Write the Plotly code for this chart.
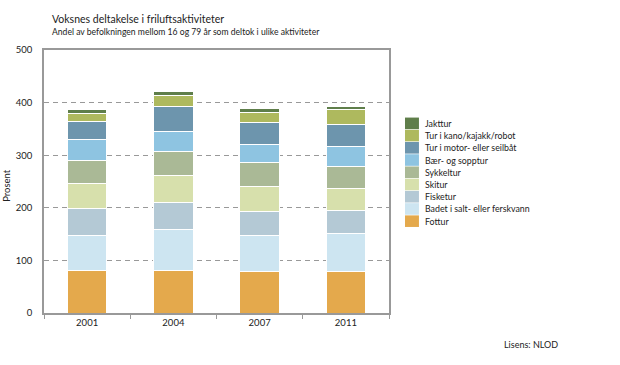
import plotly.graph_objects as go

years = ["2001", "2004", "2007", "2011"]
series_names = ["Fottur", "Badet i salt- eller ferskvann", "Fisketur", "Skitur",
                "Sykkeltur", "Bær- og sopptur", "Tur i motor- eller seilbåt",
                "Tur i kano/kajakk/robot", "Jakttur"]
fottur = [80, 80, 79, 79]
badet = [68, 79, 68, 73]
fisketur = [50, 52, 46, 43]
skitur = [49, 50, 48, 42]
sykkeltur = [42, 46, 45, 42]
baer = [40, 39, 35, 37]
motor = [36, 47, 41, 43]
kano = [15, 20, 20, 28]
jakt = [7, 8, 7, 5]
values = [fottur, badet, fisketur, skitur, sykkeltur, baer, motor, kano, jakt]
colors = ["#e4a94c", "#cde5f1", "#b4c9d5", "#d7e0ac", "#aab996",
          "#8ec4e1", "#6d95ad", "#aeb95e", "#5f7e4a"]
yticks = [0, 100, 200, 300, 400, 500]

W, H = 620, 365
L, R, T, B = 43.5, 231, 49.5, 52
pw, ph = W - L - R, H - T - B

def px(x):
    return (x - L) / pw

def py(y):
    return (H - B - y) / ph

fig = go.Figure()
for name, vals, col in zip(series_names, values, colors):
    fig.add_trace(go.Bar(x=years, y=vals, name=name, marker_color=col,
                         marker_line_color="white", marker_line_width=1,
                         showlegend=False))

FONT = "Lato, Open Sans, sans-serif"
fig.update_layout(
    width=W, height=H, barmode="stack", bargap=0.54,
    margin=dict(l=L, r=R, t=T, b=B, autoexpand=False),
    plot_bgcolor="white", paper_bgcolor="white",
    font=dict(family=FONT, size=10, color="#222"),
    xaxis=dict(showline=True, linecolor="#999", linewidth=1.5, mirror=True,
               tickson="boundaries", ticks="outside", ticklen=4, tickcolor="#999",
               tickfont=dict(size=9.5, color="#222"), showgrid=False),
    yaxis=dict(range=[0, 500], tickvals=yticks, showline=True, linecolor="#999",
               linewidth=1.5, mirror=True, showgrid=True, gridcolor="#999",
               gridwidth=1.2, griddash="5px,4px", zeroline=False, ticks="",
               tickfont=dict(size=9.5, color="#222"), ticklabelstandoff=8),
)

anns = []
anns.append(dict(text="Voksnes deltakelse i friluftsaktiviteter", x=px(50), y=py(18),
                 xref="paper", yref="paper", xanchor="left", yanchor="middle",
                 showarrow=False, font=dict(size=10.5, color="#222")))
anns.append(dict(text="Andel av befolkningen mellom 16 og 79 år som deltok i ulike aktiviteter",
                 x=px(50), y=py(31), xref="paper", yref="paper", xanchor="left",
                 yanchor="middle", showarrow=False, font=dict(size=8.6, color="#222")))
anns.append(dict(text="Prosent", x=px(6), y=py(185), xref="paper", yref="paper",
                 xanchor="center", yanchor="middle",
                 textangle=-90, showarrow=False, font=dict(size=9.5, color="#222")))
anns.append(dict(text="Lisens: NLOD", x=px(560), y=py(345), xref="paper", yref="paper",
                 xanchor="right", yanchor="middle", showarrow=False,
                 font=dict(size=9, color="#222")))

shapes = []
legend_order = list(reversed(range(len(series_names))))
for i, k in enumerate(legend_order):
    cy = 123 + i * 12.25
    shapes.append(dict(type="rect", xref="paper", yref="paper",
                       x0=px(405), x1=px(419), y0=py(cy - 5.8), y1=py(cy + 5.8),
                       fillcolor=colors[k], line=dict(width=0)))
    anns.append(dict(text=series_names[k], x=px(423), y=py(cy), xref="paper", yref="paper",
                     xanchor="left", yanchor="middle", showarrow=False,
                     font=dict(size=8.8, color="#222")))

fig.update_layout(annotations=anns, shapes=shapes)
fig.write_html("out.html", config={"displayModeBar": False},
               post_script="document.body.style.margin='0';document.body.style.overflow='hidden';")
